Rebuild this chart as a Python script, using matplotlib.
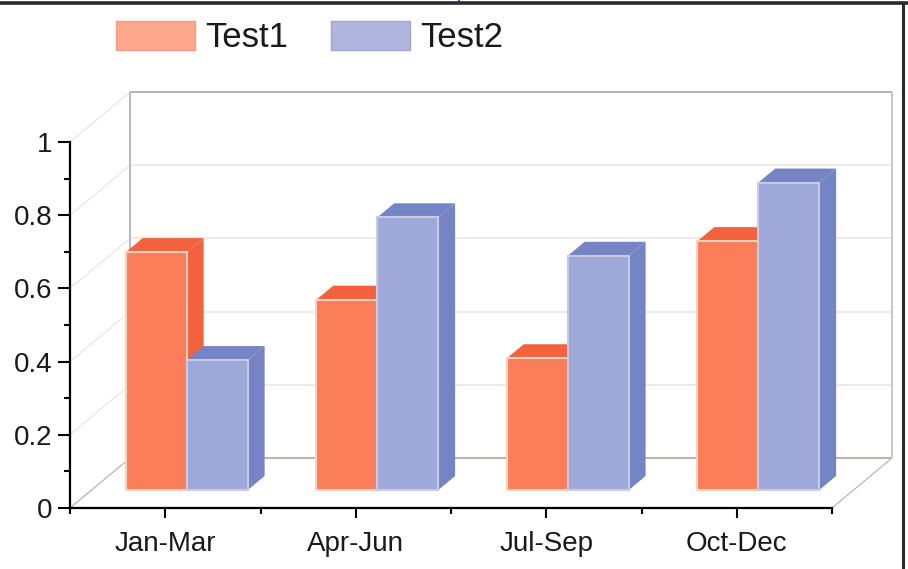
import matplotlib
matplotlib.use('Agg')
import matplotlib.pyplot as plt
from matplotlib.lines import Line2D
from matplotlib.patches import Patch

plt.rcParams['font.family'] = ['Liberation Sans', 'DejaVu Sans']

categories = ['Jan-Mar', 'Apr-Jun', 'Jul-Sep', 'Oct-Dec']
test1 = [0.65, 0.52, 0.36, 0.68]
test2 = [0.355, 0.745, 0.64, 0.84]
y_ticks = [0, 0.2, 0.4, 0.6, 0.8, 1]
y_labels = ['0', '0.2', '0.4', '0.6', '0.8', '1']

W, H = 908, 569
fig = plt.figure(figsize=(W / 100, H / 100), dpi=100, facecolor='white')
ax = fig.add_axes([70 / W, (H - 508) / H, 762 / W, 366 / H])
ax.set_xlim(0, 4)
ax.set_ylim(0, 1)
ax.patch.set_alpha(0)

# depth of the fake 3d box, in data units
dx = 60 / 190.5
dy = 50 / 366
bar_w = 0.32
bar_pos = 0.36   # front of the bars inside the box
bar_depth = 0.28


def wall_line(xs, ys, depth, color, lw=1.2, z=1):
    ax.plot([x + dx * d for x, d in zip(xs, depth)],
            [y + dy * d for y, d in zip(ys, depth)],
            color=color, lw=lw, clip_on=False, zorder=z, solid_capstyle='butt')


# back wall and left wall
for t in y_ticks:
    c = '#bdb3ac' if t in (0, 1) else '#ebe4df'
    wall_line([0, 4], [t, t], [1, 1], c, 1.5 if t in (0, 1) else 1.1)
    wall_line([0, 0], [t, t], [0, 1], '#e6e6e6' if t else '#b4b4b4', 0.9)
wall_line([0, 0], [0, 1], [1, 1], '#bcbcbc', 1.5)
wall_line([4, 4], [0, 1], [1, 1], '#cfc6c0', 1.5)
wall_line([4, 4], [0, 0], [0, 1], '#bdb8b4', 0.9)


def draw_bar(x, v, face, dark, edge):
    x0 = x + dx * bar_pos
    base = dy * bar_pos
    sx = dx * bar_depth
    sy = dy * bar_depth
    top = base + v
    ax.fill([x0 + bar_w, x0 + bar_w + sx, x0 + bar_w + sx, x0 + bar_w],
            [base, base + sy, top + sy, top], color=dark, lw=0, clip_on=False, zorder=3)
    ax.fill([x0, x0 + sx, x0 + bar_w + sx, x0 + bar_w],
            [top, top + sy, top + sy, top], color=dark, lw=0, clip_on=False, zorder=3)
    ax.bar(x0, v, width=bar_w, bottom=base, align='edge', color=face, edgecolor=edge,
           linewidth=1.5, clip_on=False, zorder=3)


for i in range(len(categories)):
    c = i + 0.5
    draw_bar(c - bar_w, test1[i], '#fb7e5b', '#f1623d', '#f7d3bf')
    draw_bar(c, test2[i], '#9ea9d9', '#7584c4', '#c9cbe3')

# axes
for s in ['top', 'right']:
    ax.spines[s].set_visible(False)
for s in ['left', 'bottom']:
    ax.spines[s].set_linewidth(1.6)
    ax.spines[s].set_color('black')
    ax.spines[s].set_zorder(5)

ax.set_yticks(y_ticks)
ax.set_yticklabels(y_labels)
ax.set_yticks([0.1, 0.3, 0.5, 0.7, 0.9], minor=True)
ax.set_xticks([i + 0.5 for i in range(len(categories))])
ax.set_xticklabels(categories)
ax.set_xticks(range(len(categories) + 1), minor=True)
ax.tick_params(axis='y', which='major', length=8.5, width=1.5, labelsize=20, pad=4, labelcolor='#1a1a1a')
ax.tick_params(axis='y', which='minor', length=4, width=1.5)
ax.tick_params(axis='x', which='major', length=7.5, width=1.5, labelsize=20, pad=9, labelcolor='#1a1a1a')
ax.tick_params(axis='x', which='minor', length=4.5, width=1.5)

# legend on top
handles = [Patch(facecolor='#fda88c', edgecolor='#f89a7c', label='Test1'),
           Patch(facecolor='#afb5dc', edgecolor='#9da5d0', label='Test2')]
fig.legend(handles=handles, loc='upper left', bbox_to_anchor=(116 / W, 1 - 21 / H), ncol=2,
           frameon=False, fontsize=25, handlelength=2.28, handleheight=0.9,
           handletextpad=0.28, columnspacing=1.25, borderpad=0, borderaxespad=0, labelcolor='#1a1a1a')

# frame of the scan
fig.add_artist(Line2D([0, 1], [1 - 3 / H, 1 - 3 / H], color='#2a2a2a', lw=2.6))
fig.add_artist(Line2D([903 / W, 903 / W], [0, 1 - 3 / H], color='#2a2a2a', lw=2.2))
fig.add_artist(Line2D([459 / W, 459 / W], [1 - 3 / H, 1], color='#2a2a9a', lw=1.2))

fig.savefig('out.png', dpi=100)
